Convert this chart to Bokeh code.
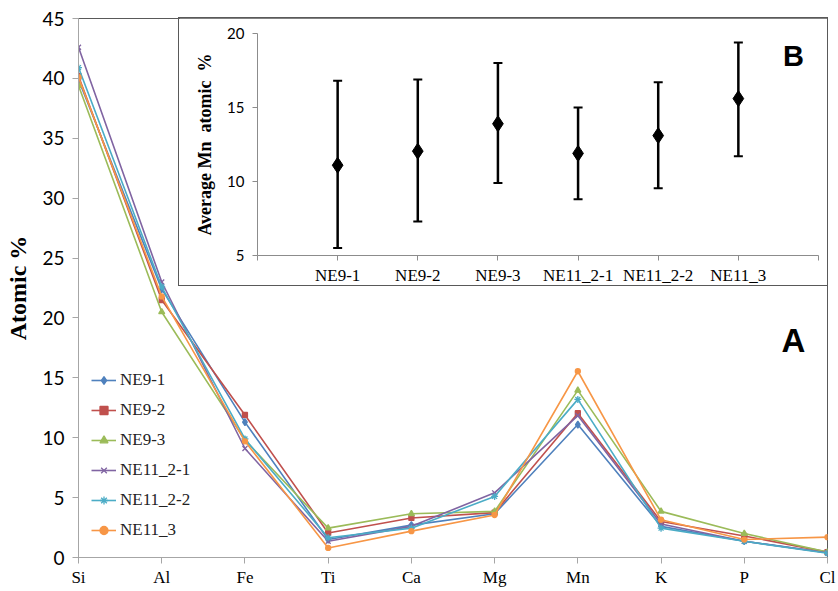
from bokeh.plotting import figure
from bokeh.models import (Range1d, FixedTicker, Legend, LegendItem, Label,
                          ColumnDataSource, Whisker, TeeHead)
from bokeh.layouts import column
from bokeh.embed import file_html
from bokeh.resources import INLINE

# ---------------- data ----------------
elements = ["Si", "Al", "Fe", "Ti", "Ca", "Mg", "Mn", "K", "P", "Cl"]
series_names = ["NE9-1", "NE9-2", "NE9-3", "NE11_2-1", "NE11_2-2", "NE11_3"]
ne9_1 = [39.9, 22.4, 11.3, 1.5, 2.7, 3.65, 11.1, 2.6, 1.36, 0.4]
ne9_2 = [40.2, 21.5, 11.9, 2.05, 3.3, 3.75, 12.05, 3.0, 1.8, 0.45]
ne9_3 = [39.4, 20.5, 9.8, 2.45, 3.65, 3.85, 13.95, 3.85, 2.0, 0.45]
ne11_2_1 = [42.6, 23.0, 9.1, 1.35, 2.6, 5.4, 11.85, 2.8, 1.35, 0.4]
ne11_2_2 = [40.9, 22.6, 9.9, 1.65, 2.45, 5.1, 13.2, 2.45, 1.35, 0.35]
ne11_3 = [40.1, 21.8, 9.7, 0.8, 2.2, 3.55, 15.55, 3.15, 1.5, 1.7]

samples = ["NE9-1", "NE9-2", "NE9-3", "NE11_2-1", "NE11_2-2", "NE11_3"]
mn_mean = [11.1, 12.05, 13.9, 11.9, 13.1, 15.6]
mn_low = [5.5, 7.3, 9.9, 8.8, 9.55, 11.7]
mn_high = [16.8, 16.9, 18.0, 15.0, 16.7, 19.4]

# ---------------- styles ----------------
colors = ["#4F81BD", "#C0504D", "#9BBB59", "#8064A2", "#4BACC6", "#F79646"]
markers = ["diamond", "square", "triangle", "x", "asterisk", "circle"]
msizes = [7, 5, 6, 7, 7, 5]
SERIF = "Liberation Serif"
SANS = "Lato"

# ---------------- main chart (A) ----------------
p = figure(width=838, height=591, output_backend="svg", toolbar_location=None,
           x_range=Range1d(0, len(elements) - 1), y_range=Range1d(0, 45),
           min_border_left=78, min_border_right=8, min_border_top=18,
           min_border_bottom=34)
p.xgrid.visible = False
p.ygrid.visible = False
p.outline_line_color = "#595959"
p.outline_line_width = 1
p.background_fill_color = "white"
p.border_fill_color = "white"

xs = list(range(len(elements)))
all_series = [ne9_1, ne9_2, ne9_3, ne11_2_1, ne11_2_2, ne11_3]
items = []
for name, ys, c, m, s in zip(series_names, all_series, colors, markers, msizes):
    src = ColumnDataSource(dict(x=xs, y=ys))
    lr = p.line("x", "y", source=src, line_color=c, line_width=1.6)
    sr = p.scatter("x", "y", source=src, marker=m, size=s, line_color=c,
                   fill_color=c, line_width=1.3)
    items.append(LegendItem(label=name, renderers=[lr, sr]))

legend = Legend(items=items, location=(13, 17), padding=0, margin=0,
                spacing=10, glyph_width=25, glyph_height=20, label_height=20,
                label_standoff=4, border_line_color=None,
                background_fill_alpha=0, label_text_font=SERIF,
                label_text_font_size="17px", label_text_color="#222222")
p.add_layout(legend)

p.xaxis.ticker = FixedTicker(ticks=xs)
p.xaxis.major_label_overrides = {i: e for i, e in enumerate(elements)}
p.xaxis.major_label_text_font = SERIF
p.xaxis.major_label_text_font_size = "17px"
p.xaxis.major_label_text_color = "black"
p.xaxis.axis_line_color = "#A6A6A6"
p.xaxis.major_tick_line_color = "#A6A6A6"
p.xaxis.major_tick_in = 0
p.xaxis.major_tick_out = 6
p.xaxis.minor_tick_line_color = None
p.xaxis.major_label_standoff = 4

p.yaxis.ticker = FixedTicker(ticks=[0, 5, 10, 15, 20, 25, 30, 35, 40, 45])
p.yaxis.major_label_text_font = SANS
p.yaxis.major_label_text_font_size = "19px"
p.yaxis.major_label_text_color = "black"
p.yaxis.axis_line_color = "#A6A6A6"
p.yaxis.major_tick_line_color = "#A6A6A6"
p.yaxis.major_tick_in = 0
p.yaxis.major_tick_out = 6
p.yaxis.minor_tick_line_color = None
p.yaxis.major_label_standoff = 8
p.yaxis.axis_label = "Atomic %"
p.yaxis.axis_label_text_font = SERIF
p.yaxis.axis_label_text_font_style = "bold"
p.yaxis.axis_label_text_font_size = "24px"
p.yaxis.axis_label_text_color = "black"
p.yaxis.axis_label_standoff = 8

# screen units are measured from the frame's bottom-left corner
p.add_layout(Label(x=715, y=217, x_units="screen", y_units="screen",
                   text="A", text_font="Liberation Sans", text_font_style="bold",
                   text_font_size="33px", text_align="center",
                   text_baseline="middle", text_color="black"))

# ---------------- inset chart (B) ----------------
q = figure(width=650, height=269, output_backend="svg", toolbar_location=None,
           x_range=Range1d(0, len(samples) + 1), y_range=Range1d(5, 20),
           min_border_left=76, min_border_right=11, min_border_top=15,
           min_border_bottom=30)
q.xgrid.visible = False
q.ygrid.visible = False
q.outline_line_color = None
q.background_fill_color = "white"
q.border_fill_color = "white"
q.styles = {"border": "1px solid #595959"}
q.margin = (-574, 0, 0, 178)

sx = [i + 1 for i in range(len(samples))]
bsrc = ColumnDataSource(dict(x=sx, mean=mn_mean, lower=mn_low, upper=mn_high))
wh = Whisker(base="x", lower="lower", upper="upper", source=bsrc,
             line_color="black", line_width=2.5,
             upper_head=TeeHead(size=9, line_width=2, line_color="black"),
             lower_head=TeeHead(size=9, line_width=2, line_color="black"))
q.add_layout(wh)
q.scatter("x", "mean", source=bsrc, marker="diamond", size=16,
          fill_color="black", line_color="black")

q.xaxis.ticker = FixedTicker(ticks=list(range(len(samples) + 2)))
q.xaxis.major_label_overrides = {**{0: "", len(samples) + 1: ""},
                                 **{i + 1: s for i, s in enumerate(samples)}}
q.xaxis.major_label_text_font = SERIF
q.xaxis.major_label_text_font_size = "17px"
q.xaxis.major_label_text_color = "black"
q.xaxis.axis_line_color = "#8C8C8C"
q.xaxis.major_tick_line_color = "#8C8C8C"
q.xaxis.major_tick_in = 0
q.xaxis.major_tick_out = 5
q.xaxis.minor_tick_line_color = None
q.xaxis.major_label_standoff = 5

q.yaxis.ticker = FixedTicker(ticks=[5, 10, 15, 20])
q.yaxis.major_label_text_font = SANS
q.yaxis.major_label_text_font_size = "15px"
q.yaxis.major_label_text_color = "black"
q.yaxis.axis_line_color = "#8C8C8C"
q.yaxis.major_tick_line_color = "#8C8C8C"
q.yaxis.major_tick_in = 0
q.yaxis.major_tick_out = 5
q.yaxis.minor_tick_line_color = None
q.yaxis.major_label_standoff = 8
q.yaxis.axis_label = "Average Mn\u00a0 atomic\u00a0 %"
q.yaxis.axis_label_text_font = SERIF
q.yaxis.axis_label_text_font_style = "bold"
q.yaxis.axis_label_text_font_size = "18px"
q.yaxis.axis_label_text_color = "black"
q.yaxis.axis_label_standoff = 9

q.add_layout(Label(x=536, y=200, x_units="screen", y_units="screen",
                   text="B", text_font="Liberation Sans", text_font_style="bold",
                   text_font_size="29px", text_align="center",
                   text_baseline="middle", text_color="black"))

layout = column(p, q)
open("out.html", "w").write(file_html(layout, INLINE))
